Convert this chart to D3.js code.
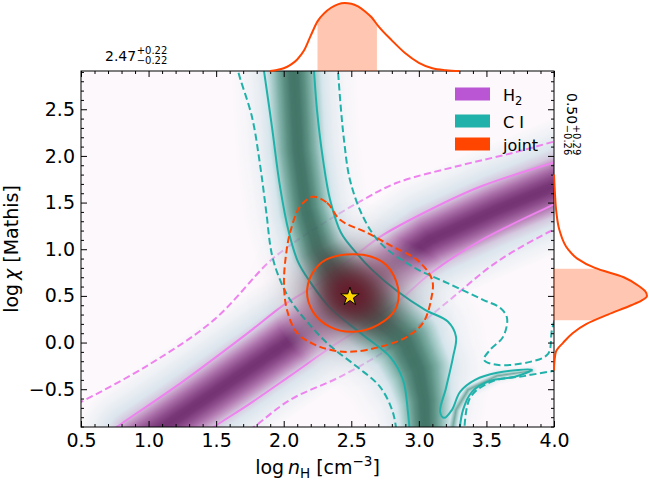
<!DOCTYPE html>
<html>
<head>
<meta charset="utf-8">
<script src="https://cdn.jsdelivr.net/npm/d3@7"></script>
<style>
  body { margin: 0; background: #fff; }
  svg { font-family: "DejaVu Sans", sans-serif; }
</style>
</head>
<body>
<svg id="chart" width="650" height="482"></svg>
<script>
// ---- values (log nH, log chi) ----
var xTicks = [0.5, 1.0, 1.5, 2.0, 2.5, 3.0, 3.5, 4.0];
var yTicks = [-0.5, 0.0, 0.5, 1.0, 1.5, 2.0, 2.5];

// marginal posteriors (relative density)
var nhGrid = [1.9, 1.95, 2.0, 2.05, 2.1, 2.15, 2.2, 2.25, 2.3, 2.35, 2.4, 2.45, 2.5, 2.55, 2.6, 2.65, 2.7, 2.8, 2.9, 3.0, 3.1, 3.2, 3.3];
var nhDens = [0, 0.015, 0.04, 0.09, 0.17, 0.3, 0.52, 0.73, 0.85, 0.93, 0.98, 1.0, 0.99, 0.95, 0.88, 0.79, 0.66, 0.45, 0.26, 0.12, 0.04, 0.012, 0];
var chiGrid = [-0.3, -0.2, -0.1, 0.0, 0.1, 0.2, 0.3, 0.4, 0.45, 0.5, 0.55, 0.6, 0.7, 0.8, 0.9, 1.0, 1.2, 1.4, 1.6, 1.8];
var chiDens = [0, 0.005, 0.02, 0.1, 0.2, 0.35, 0.58, 0.83, 0.94, 1.0, 0.98, 0.92, 0.75, 0.44, 0.25, 0.15, 0.06, 0.025, 0.01, 0];

// summary statistics
var nhMed = 2.47, nhErrLo = 0.22, nhErrHi = 0.22;
var chiMed = 0.50, chiErrLo = 0.26, chiErrHi = 0.29;
var starPoint = [2.49, 0.49];

// ridges of the likelihoods
var h2Ridge = [[0.937,-1.075],[1.114,-0.904],[1.484,-0.539],[1.98,-0.046],[2.276,0.243],[2.587,0.597],[3.083,1.101],[3.578,1.423],[3.993,1.669],[4.118,1.744]];
var ciRidge = [[2.069,3.03],[2.106,2.065],[2.165,1.423],[2.254,0.994],[2.38,0.726],[2.49,0.49],[2.698,0.243],[2.898,0.008],[2.994,-0.292],[3.038,-0.614],[3.053,-1.043]];
var ciSpread = [1.0, 1.0, 1.0, 1.0, 1.1, 1.2, 1.3, 1.3, 1.2, 1.0, 0.85];
var ciTongue = [[3.245,-0.95],[3.275,-0.721],[3.364,-0.507],[3.578,-0.357],[3.837,-0.303]];
var tongueSpread = [0.35, 0.3, 0.25, 0.2, 0.12];
var jointPeak = [2.5, 0.52], jointSpread = [0.22, 0.28];

// contour levels (solid = 1 sigma, dashed = 2 sigma)
var h2Dash2Upper = [[0.40,-0.70],[0.5,-0.636],[1.0,-0.239],[1.484,0.243],[1.884,0.854],[2.032,1.026],[2.276,1.262],[2.587,1.53],[2.838,1.712],[3.327,1.905],[3.697,2.033],[3.993,2.151],[4.1,2.19]];
var h2Solid1Upper = [[0.68,-1.0],[0.766,-0.904],[1.24,-0.432],[1.736,0.104],[2.002,0.404],[2.276,0.65],[2.49,0.886],[2.713,1.133],[3.083,1.423],[3.453,1.669],[3.993,1.926],[4.1,1.97]];
var h2Solid1Lower = [[1.40,-1.0],[1.484,-0.904],[1.736,-0.668],[2.047,-0.357],[2.343,-0.056],[2.661,0.244],[2.861,0.458],[3.083,0.737],[3.453,1.09],[3.993,1.476],[4.1,1.55]];
var h2Dash2Lower = [[1.68,-1.0],[1.78,-0.904],[2.047,-0.614],[2.417,-0.367],[2.787,-0.056],[3.031,0.222],[3.23,0.458],[3.578,0.865],[3.993,1.208],[4.1,1.28]];

var ciSolidLeft = [[1.845,3.0],[1.854,2.912],[1.913,2.312],[1.973,1.669],[2.039,1.176],[2.106,0.865],[2.195,0.651],[2.343,0.372],[2.587,0.082],[2.787,-0.153],[2.883,-0.4],[2.92,-0.753],[2.935,-1.0]];
var ciSolidRight = [[2.22,3.0],[2.224,2.912],[2.246,2.494],[2.291,1.958],[2.343,1.53],[2.424,1.176],[2.543,0.951],[2.654,0.779],[2.846,0.544],[3.046,0.351],[3.216,0.222],[3.275,0.061],[3.253,-0.153],[3.201,-0.486],[3.157,-0.743],[3.186,-0.807],[3.245,-0.721],[3.305,-0.528],[3.416,-0.4],[3.578,-0.324],[3.837,-0.292],[3.711,-0.367],[3.527,-0.41],[3.393,-0.528],[3.327,-0.721],[3.297,-1.0]];
var ciDashLeft = [[1.655,3.0],[1.662,2.912],[1.765,2.419],[1.825,1.905],[1.869,1.423],[1.913,0.94],[1.973,0.672],[2.047,0.458],[2.18,0.211],[2.343,-0.035],[2.543,-0.26],[2.713,-0.475],[2.809,-0.753],[2.838,-1.0]];
var ciDashRight = [[2.40,3.0],[2.402,2.912],[2.424,2.494],[2.446,2.173],[2.49,1.744],[2.587,1.348],[2.713,1.07],[2.957,0.811],[3.208,0.64],[3.475,0.458],[3.601,0.372],[3.652,0.265],[3.623,0.061],[3.527,-0.078],[3.482,-0.185],[3.578,-0.239],[3.823,-0.207],[3.956,-0.121],[3.985,0.136],[4.05,0.45]];
var ciDashLower = [[4.1,-0.28],[4.045,-0.292],[3.786,-0.357],[3.534,-0.421],[3.379,-0.593],[3.335,-1.0]];

var joint1 = [[2.343,0.908],[2.587,0.94],[2.757,0.833],[2.846,0.587],[2.824,0.351],[2.698,0.19],[2.513,0.115],[2.343,0.168],[2.217,0.329],[2.173,0.565],[2.24,0.801]];
var joint2 = [[2.217,1.562],[2.32,1.498],[2.417,1.315],[2.617,1.176],[2.809,1.026],[2.987,0.886],[3.098,0.672],[3.09,0.458],[3.031,0.211],[2.912,0.061],[2.713,-0.046],[2.49,-0.1],[2.343,-0.078],[2.217,-0.014],[2.098,0.104],[2.024,0.351],[2.002,0.64],[2.017,0.94],[2.047,1.176],[2.12,1.455]];

var legendLabels = ["H", "C I", "joint"];

// ---- layout ----
var svg = d3.select("#chart");
var pL = 81, pR = 554, pT = 71, pB = 427;
var x = d3.scaleLinear().domain([0.5, 4.0]).range([pL, pR]);
var y = d3.scaleLinear().domain([-0.905, 2.91]).range([pB, pT]);
var yTop = d3.scaleLinear().domain([0, 1]).range([pT, 3]);
var xRight = d3.scaleLinear().domain([0, 1]).range([pR, 647]);

var H2C = "#ee82ee", CIC = "#20b2aa", JC = "#ff4500";

var defs = svg.append("defs");
defs.append("clipPath").attr("id", "plotClip").append("rect")
  .attr("x", pL).attr("y", pT).attr("width", pR - pL).attr("height", pB - pT);
defs.append("clipPath").attr("id", "topFill").append("rect")
  .attr("x", x(nhMed - nhErrLo)).attr("y", 0)
  .attr("width", x(nhMed + nhErrHi) - x(nhMed - nhErrLo)).attr("height", pT);
defs.append("clipPath").attr("id", "rightFill").append("rect")
  .attr("x", pR).attr("y", y(chiMed + chiErrHi))
  .attr("width", 100).attr("height", y(chiMed - chiErrLo) - y(chiMed + chiErrHi));

// ---- density images ----
var W = pR - pL, H = pB - pT;
function toPx(pts) { return pts.map(function (p) { return [x(p[0]), y(p[1])]; }); }

function polyDist(px, py, pts, wts) {
  var best = 1e9;
  for (var k = 0; k < pts.length - 1; k++) {
    var ax = pts[k][0], ay = pts[k][1], dx = pts[k+1][0] - ax, dy = pts[k+1][1] - ay;
    var L = dx*dx + dy*dy;
    var t = L > 0 ? ((px - ax)*dx + (py - ay)*dy) / L : 0;
    t = Math.max(0, Math.min(1, t));
    var qx = ax + t*dx - px, qy = ay + t*dy - py;
    var w = wts[k] + (wts[k+1] - wts[k]) * t;
    var d = Math.sqrt(qx*qx + qy*qy) / w;
    if (d < best) best = d;
  }
  return best;
}

function ramp(stops, d) {
  if (d <= stops[0][0]) return stops[0].slice(1);
  for (var k = 1; k < stops.length; k++) {
    if (d <= stops[k][0]) {
      var a = stops[k-1], b = stops[k], t = (d - a[0]) / (b[0] - a[0]);
      return a.slice(1).map(function (v, i) { return v + (b[i+1] - v) * t; });
    }
  }
  return stops[stops.length - 1].slice(1);
}

function makeImage(fn) {
  var c = document.createElement("canvas");
  c.width = W; c.height = H;
  var ctx = c.getContext("2d"), img = ctx.createImageData(W, H);
  for (var j = 0; j < H; j++) {
    for (var i = 0; i < W; i++) {
      var col = fn(pL + i + 0.5, pT + j + 0.5), o = (j*W + i) * 4;
      img.data[o] = col[0]; img.data[o+1] = col[1]; img.data[o+2] = col[2];
      img.data[o+3] = Math.round((col.length > 3 ? col[3] : 1) * 255);
    }
  }
  ctx.putImageData(img, 0, 0);
  return c.toDataURL();
}

var h2Stops = [[0,116,52,116],[4,120,56,120],[10,142,78,141],[16,168,108,167],[22,194,150,195],[28,212,200,222],[36,220,229,237],[50,238,241,245],[64,252,248,251]];
var ciStops = [[0,60,112,98,0.96],[4,62,115,101,0.96],[10,78,135,120,0.93],[16,105,163,152,0.87],[22,145,193,190,0.78],[28,195,220,228,0.66],[36,214,228,235,0.55],[50,232,238,243,0.32],[64,245,246,248,0]];

var h2Px = toPx(h2Ridge), h2W = h2Ridge.map(function () { return 1; });
var ciPx = toPx(ciRidge), tgPx = toPx(ciTongue);

var h2Img = makeImage(function (px, py) {
  return ramp(h2Stops, polyDist(px, py, h2Px, h2W));
});
var ciImg = makeImage(function (px, py) {
  var d = Math.min(polyDist(px, py, ciPx, ciSpread), polyDist(px, py, tgPx, tongueSpread) + 15);
  return ramp(ciStops, d);
});
var jx = x(jointPeak[0]), jy = y(jointPeak[1]);
var jsx = x(jointPeak[0] + jointSpread[0]) - jx, jsy = jy - y(jointPeak[1] + jointSpread[1]);
var jImg = makeImage(function (px, py) {
  var r2 = Math.pow((px - jx) / jsx, 2) + Math.pow((py - jy) / jsy, 2);
  return [105, 22, 40, 0.93 * Math.exp(-r2 / 2)];
});

// ---- main panel ----
var plot = svg.append("g").attr("clip-path", "url(#plotClip)");
var line = d3.line().x(function (d) { return x(d[0]); }).y(function (d) { return y(d[1]); })
  .curve(d3.curveCatmullRom.alpha(0.5));
var loop = d3.line().x(function (d) { return x(d[0]); }).y(function (d) { return y(d[1]); })
  .curve(d3.curveCatmullRomClosed.alpha(0.5));

function addImage(href) {
  plot.append("image").attr("x", pL).attr("y", pT).attr("width", W).attr("height", H)
    .attr("preserveAspectRatio", "none").attr("href", href);
}
function addLines(list, color, dashed, gen) {
  list.forEach(function (pts) {
    plot.append("path").attr("d", (gen || line)(pts))
      .attr("fill", "none").attr("stroke", color).attr("stroke-width", 2)
      .attr("stroke-dasharray", dashed ? "7,3.5" : null);
  });
}

addImage(h2Img);
addLines([h2Solid1Upper, h2Solid1Lower], H2C, false);
addLines([h2Dash2Upper, h2Dash2Lower], H2C, true);
addImage(ciImg);
addLines([ciSolidLeft, ciSolidRight], CIC, false);
addLines([ciDashLeft, ciDashRight, ciDashLower], CIC, true);
addImage(jImg);
addLines([joint1], JC, false, loop);
addLines([joint2], JC, true, loop);

svg.append("path")
  .attr("d", d3.symbol().type(d3.symbolStar).size(105)())
  .attr("transform", "translate(" + x(starPoint[0]) + "," + y(starPoint[1]) + ")")
  .attr("fill", "#ffd700").attr("stroke", "#000").attr("stroke-width", 1);

// ---- legend ----
var legColors = ["#ba55d3", CIC, JC];
var legY = [94, 121, 144];
legendLabels.forEach(function (lab, i) {
  svg.append("rect").attr("x", 455).attr("y", legY[i] - 6.5).attr("width", 35).attr("height", 13)
    .attr("fill", legColors[i]);
  var t = svg.append("text").attr("x", 503).attr("y", legY[i] + 6.5)
    .attr("font-size", 16).attr("fill", "#000").text(lab);
  if (i === 0) t.append("tspan").attr("font-size", 11.5).attr("dy", 4).text("2");
});

// ---- axes ----
var fmt = d3.format(".1f");
var xMinor = d3.range(5, 41).map(function (v) { return v / 10; }).filter(function (v) { return Math.round(v * 10) % 5 !== 0; });
var yMinor = d3.range(-9, 30).map(function (v) { return v / 10; }).filter(function (v) { return Math.round(Math.abs(v) * 10) % 5 !== 0; });

function styleAxis(g) {
  g.select(".domain").remove();
  g.selectAll(".tick line").attr("stroke", "#000").attr("stroke-width", 1);
  g.selectAll(".tick text").attr("font-size", 19).attr("fill", "#000").attr("font-family", "DejaVu Sans");
}
svg.append("g").attr("transform", "translate(0," + pB + ")")
  .call(d3.axisBottom(x).tickValues(xTicks).tickFormat(fmt).tickSizeInner(-6).tickSizeOuter(0).tickPadding(6.5)).call(styleAxis);
svg.append("g").attr("transform", "translate(0," + pB + ")")
  .call(d3.axisBottom(x).tickValues(xMinor).tickFormat("").tickSizeInner(-3).tickSizeOuter(0)).call(styleAxis);
svg.append("g").attr("transform", "translate(0," + pT + ")")
  .call(d3.axisTop(x).tickValues(xTicks).tickFormat("").tickSizeInner(-6).tickSizeOuter(0)).call(styleAxis);
svg.append("g").attr("transform", "translate(0," + pT + ")")
  .call(d3.axisTop(x).tickValues(xMinor).tickFormat("").tickSizeInner(-3).tickSizeOuter(0)).call(styleAxis);
svg.append("g").attr("transform", "translate(" + pL + ",0)")
  .call(d3.axisLeft(y).tickValues(yTicks).tickFormat(fmt).tickSizeInner(-6).tickSizeOuter(0).tickPadding(6)).call(styleAxis);
svg.append("g").attr("transform", "translate(" + pL + ",0)")
  .call(d3.axisLeft(y).tickValues(yMinor).tickFormat("").tickSizeInner(-3).tickSizeOuter(0)).call(styleAxis);
svg.append("g").attr("transform", "translate(" + pR + ",0)")
  .call(d3.axisRight(y).tickValues(yTicks).tickFormat("").tickSizeInner(-6).tickSizeOuter(0)).call(styleAxis);
svg.append("g").attr("transform", "translate(" + pR + ",0)")
  .call(d3.axisRight(y).tickValues(yMinor).tickFormat("").tickSizeInner(-3).tickSizeOuter(0)).call(styleAxis);

svg.append("rect").attr("x", pL).attr("y", pT).attr("width", pR - pL).attr("height", pB - pT)
  .attr("fill", "none").attr("stroke", "#000").attr("stroke-width", 1);

// axis labels
var xl = svg.append("text").attr("x", (pL + pR) / 2).attr("y", 474)
  .attr("text-anchor", "middle").attr("font-size", 19).attr("fill", "#000");
xl.append("tspan").text("log\u2009");
xl.append("tspan").attr("font-style", "italic").text("n");
xl.append("tspan").attr("font-size", 13.5).attr("dy", 4).text("H");
xl.append("tspan").attr("dy", -4).text(" [cm");
xl.append("tspan").attr("font-size", 13.5).attr("dy", -8).text("\u22123");
xl.append("tspan").attr("dy", 8).text("]");

var yl = svg.append("text").attr("transform", "translate(17.5," + (pT + pB) / 2 + ") rotate(-90)")
  .attr("text-anchor", "middle").attr("font-size", 19).attr("fill", "#000");
yl.append("tspan").text("log\u2009");
yl.append("tspan").attr("font-style", "italic").text("\u03c7");
yl.append("tspan").text(" [Mathis]");

// ---- marginals ----
var nhPts = nhGrid.map(function (v, i) { return [v, nhDens[i]]; });
var chiPts = chiGrid.map(function (v, i) { return [v, chiDens[i]]; });

svg.append("path").attr("clip-path", "url(#topFill)")
  .attr("d", d3.area().x(function (d) { return x(d[0]); }).y0(yTop(0)).y1(function (d) { return yTop(d[1]); })
    .curve(d3.curveMonotoneX)(nhPts))
  .attr("fill", JC).attr("fill-opacity", 0.3);
svg.append("path")
  .attr("d", d3.line().x(function (d) { return x(d[0]); }).y(function (d) { return yTop(d[1]); })
    .curve(d3.curveMonotoneX)(nhPts))
  .attr("fill", "none").attr("stroke", JC).attr("stroke-width", 2);

svg.append("path").attr("clip-path", "url(#rightFill)")
  .attr("d", d3.area().y(function (d) { return y(d[0]); }).x0(xRight(0)).x1(function (d) { return xRight(d[1]); })
    .curve(d3.curveMonotoneY)(chiPts))
  .attr("fill", JC).attr("fill-opacity", 0.3);
svg.append("path")
  .attr("d", d3.line().y(function (d) { return y(d[0]); }).x(function (d) { return xRight(d[1]); })
    .curve(d3.curveMonotoneY)(chiPts))
  .attr("fill", "none").attr("stroke", JC).attr("stroke-width", 2);

// summary annotations
var f2 = d3.format(".2f");
function annotate(g, med, lo, hi) {
  var main = g.append("text").attr("x", 0).attr("y", 0).attr("font-size", 14).attr("fill", "#000").text(f2(med));
  var w = main.node().getComputedTextLength() + 0.5;
  g.append("text").attr("x", w).attr("y", -6.5).attr("font-size", 10).attr("fill", "#000").text("+" + f2(hi));
  g.append("text").attr("x", w).attr("y", 3).attr("font-size", 10).attr("fill", "#000").text("\u2212" + f2(lo));
}
annotate(svg.append("g").attr("transform", "translate(105,60.5)"), nhMed, nhErrLo, nhErrHi);
annotate(svg.append("g").attr("transform", "translate(566.5,93) rotate(90)"), chiMed, chiErrLo, chiErrHi);
</script>
</body>
</html>
